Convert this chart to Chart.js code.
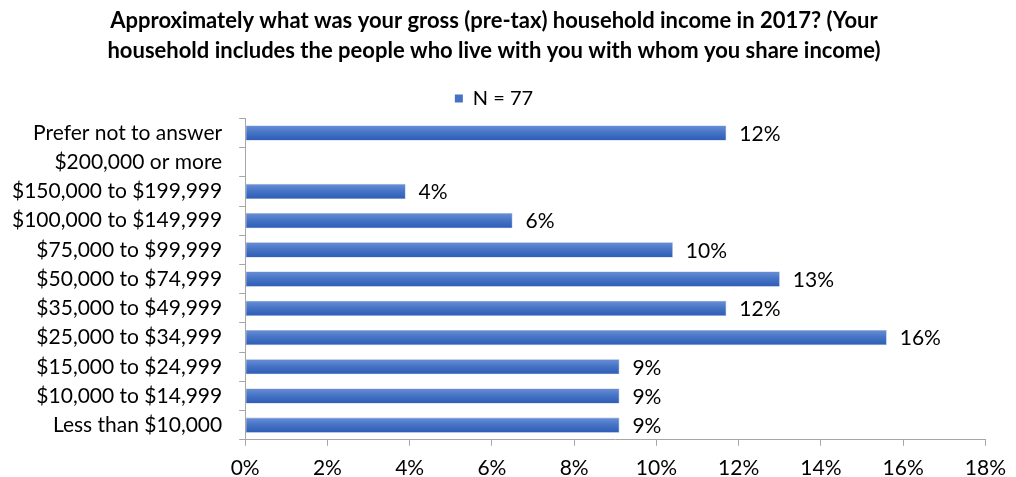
<!DOCTYPE html>
<html>
<head>
<meta charset="utf-8">
<script src="https://cdn.jsdelivr.net/npm/chart.js@4/dist/chart.umd.min.js"></script>
<style>
    html, body { margin: 0; padding: 0; background: #fff; }
    #wrap { width: 1016px; height: 477px; }
</style>
</head>
<body>
<div id="wrap"><canvas id="chart"></canvas></div>
<script>
// household income question, N = 77 respondents
const categories = [
    'Prefer not to answer',
    '$200,000 or more',
    '$150,000 to $199,999',
    '$100,000 to $149,999',
    '$75,000 to $99,999',
    '$50,000 to $74,999',
    '$35,000 to $49,999',
    '$25,000 to $34,999',
    '$15,000 to $24,999',
    '$10,000 to $14,999',
    'Less than $10,000'
];
// percent of respondents
const shares = [11.7, 0, 3.9, 6.5, 10.4, 13.0, 11.7, 15.6, 9.1, 9.1, 9.1];
// labels printed next to the bars
const shareLabels = ['12%', '', '4%', '6%', '10%', '13%', '12%', '16%', '9%', '9%', '9%'];
const seriesName = 'N = 77';
const titleLines = [
    'Approximately what was your gross (pre-tax) household income in 2017? (Your',
    'household includes the people who live with you with whom you share income)'
];

const BODY_FONT = "Lato, 'Open Sans', sans-serif";
const TITLE_FONT = "Lato, 'Open Sans', sans-serif";

// excel-ish vertical gradient for each bar
function barFill(ctx) {
    const chart = ctx.chart;
    const yScale = chart.scales && chart.scales.y;
    if (!yScale || ctx.dataIndex === undefined || !chart.chartArea) return '#4472c4';
    const center = yScale.getPixelForValue(ctx.dataIndex);
    const half = (yScale.height / categories.length) * 0.52 / 2;
    const g = chart.ctx.createLinearGradient(0, center - half, 0, center + half);
    g.addColorStop(0, '#6a8fd6');
    g.addColorStop(0.5, '#4472c4');
    g.addColorStop(1, '#2e5cb6');
    return g;
}

// value labels to the right of each bar
const valueLabels = {
    id: 'valueLabels',
    afterDatasetsDraw(chart) {
        const ctx = chart.ctx;
        const meta = chart.getDatasetMeta(0);
        ctx.save();
        ctx.font = '21px ' + BODY_FONT;
        ctx.fillStyle = '#000';
        ctx.textBaseline = 'middle';
        ctx.textAlign = 'left';
        meta.data.forEach((bar, i) => {
            if (!shareLabels[i]) return;
            ctx.fillText(shareLabels[i], bar.x + 13, bar.y + 1);
        });
        ctx.restore();
    }
};

new Chart(document.getElementById('chart'), {
    type: 'bar',
    data: {
        labels: categories,
        datasets: [{
            label: seriesName,
            data: shares,
            backgroundColor: barFill,
            borderColor: '#8eaadc',
            borderWidth: 0.6,
            borderSkipped: false,
            barPercentage: 0.52,
            categoryPercentage: 1.0
        }]
    },
    options: {
        indexAxis: 'y',
        responsive: true,
        maintainAspectRatio: false,
        animation: false,
        layout: { padding: { left: -5, right: 23, top: 0, bottom: -14 } },
        plugins: {
            title: {
                display: true,
                text: titleLines,
                color: '#000',
                font: { family: TITLE_FONT, size: 22, weight: 'bold', lineHeight: 1.35 },
                padding: { top: 6, bottom: 17 }
            },
            legend: {
                display: true,
                position: 'top',
                labels: {
                    color: '#000',
                    boxWidth: 8,
                    boxHeight: 8,
                    padding: 6,
                    font: { family: BODY_FONT, size: 20 },
                    generateLabels: () => [{
                        text: seriesName,
                        fillStyle: '#4472c4',
                        strokeStyle: '#4472c4',
                        lineWidth: 0,
                        datasetIndex: 0
                    }]
                }
            },
            tooltip: { enabled: false }
        },
        scales: {
            x: {
                min: 0,
                max: 18,
                ticks: {
                    stepSize: 2,
                    color: '#000',
                    padding: 10,
                    font: { family: BODY_FONT, size: 21 },
                    callback: v => v + '%'
                },
                grid: {
                    drawOnChartArea: false,
                    drawTicks: true,
                    tickLength: 6,
                    color: '#a6a6a6'
                },
                border: { color: '#a6a6a6', width: 1 }
            },
            y: {
                ticks: {
                    color: '#000',
                    padding: 17,
                    autoSkip: false,
                    font: { family: BODY_FONT, size: 21 }
                },
                grid: {
                    drawOnChartArea: false,
                    drawTicks: true,
                    tickLength: 6,
                    offset: true,
                    color: '#a6a6a6'
                },
                border: { color: '#a6a6a6', width: 1 }
            }
        }
    },
    plugins: [valueLabels]
});
</script>
</body>
</html>
